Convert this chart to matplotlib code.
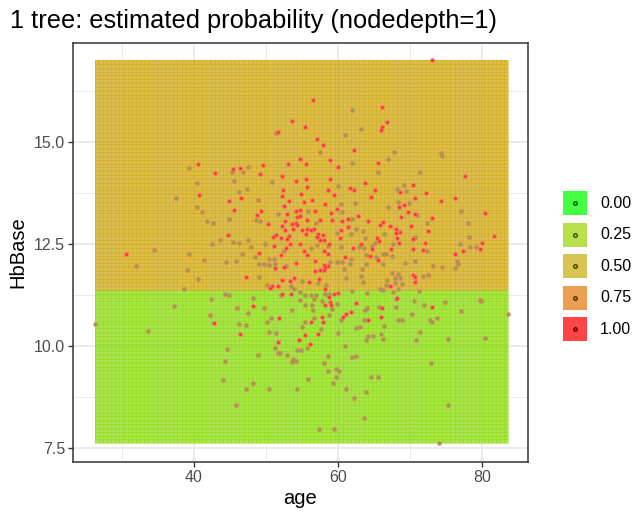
import numpy as np
import matplotlib
matplotlib.use("Agg")
import matplotlib.pyplot as plt
from matplotlib.colors import LinearSegmentedColormap
from matplotlib.patches import Rectangle

plt.rcParams["font.family"] = ["Liberation Sans", "DejaVu Sans"]

# patients with outcome 1 (drawn red)
red_age = [40.6, 42.9, 40.7, 44.9, 44.7, 30.6, 42.8,
           56.6, 53.6, 55.5, 51.75, 57.1, 57.9, 62.2, 58.9, 54.8, 53.1, 55.6, 49.6, 46.5, 45.5,
           60.0, 49.2, 52.2, 55.6, 58.9, 54.2, 63.75, 61.7, 62.3, 55.8, 52.4, 58.6, 54.9, 52.3,
           59.5, 46.6, 53.2, 56.4, 55.3, 58.2, 52.5, 45.6, 49.3, 54.2, 54.8, 56.8, 59.9, 59.1,
           48.75, 53.0, 54.35, 54.8, 62.8, 55.7, 57.5, 59.25, 61.5, 64.2, 52.7, 54.25, 60.6,
           50.3, 53.6, 54.4, 52.3, 61.4, 52.7, 55.7, 55.0, 56.3, 56.75, 53.75, 60.5, 55.6, 57.3,
           58.0, 51.4, 51.0, 52.1, 53.3, 52.9, 57.1, 57.5, 58.1, 60.3, 53.4, 54.7, 58.8, 63.2,
           51.2, 52.8, 62.1,
           73.1, 66.2, 66.9, 66.1, 66.05, 65.6, 77.7, 70.4, 68.6, 65.2, 64.6, 72.2, 70.8, 76.25,
           74.35, 69.25, 68.5, 69.7, 70.8, 80.4, 68.8, 73.1, 66.3, 65.9, 67.3, 70.2, 68.1, 72.6,
           68.7, 68.1, 81.7, 65.5, 68.2, 70.5, 65.7, 68.5, 72.1, 80.0, 64.7, 67.4, 70.4, 71.9, 79.8,
           49.1, 52.1, 55.3, 55.7, 58.1, 58.65, 61.0, 51.3, 52.5, 54.2, 56.8, 58.1, 58.6, 56.9,
           57.5, 58.1, 58.2, 47.3, 53.9, 53.4, 52.2, 56.0, 57.4, 50.9, 51.7, 50.6, 58.3, 52.3,
           53.5, 59.5, 60.0, 58.8, 59.0, 58.2, 59.1, 62.5, 48.3, 61.8, 61.15, 60.8, 51.9, 57.8,
           64.2, 56.3, 57.9, 46.5, 57.3, 55.5, 54.6, 51.7, 56.1,
           64.5, 65.6, 76.25, 77.4, 70.5, 70.8, 70.8, 67.3, 68.3, 66.2, 73.1, 66.05]
red_hb = [14.46, 14.23, 13.70, 13.55, 12.71, 12.24, 10.56,
          16.02, 15.50, 15.35, 15.25, 15.07, 14.91, 14.80, 14.56, 14.58, 14.45, 14.45, 14.43, 14.36, 14.34,
          14.38, 14.22, 14.15, 14.09, 14.08, 14.04, 13.98, 13.87, 13.82, 13.89, 13.82, 13.81, 13.72, 13.66,
          13.69, 13.61, 13.54, 13.56, 13.52, 13.47, 13.43, 13.32, 13.29, 13.29, 13.33, 13.31, 13.35, 13.25,
          13.21, 13.22, 13.16, 13.17, 13.17, 13.09, 13.09, 13.09, 13.11, 13.06, 13.05, 13.01, 13.05,
          12.98, 12.98, 12.97, 12.93, 12.92, 12.84, 12.86, 12.84, 12.84, 12.85, 12.87, 12.84, 12.74, 12.73,
          12.71, 12.71, 12.66, 12.64, 12.70, 12.62, 12.66, 12.59, 12.58, 12.65, 12.50, 12.50, 12.49, 12.50,
          12.44, 12.40, 12.40,
          17.00, 15.85, 15.49, 15.37, 15.28, 14.47, 14.15, 13.95, 13.77, 13.81, 13.64, 13.74, 13.62, 13.62,
          13.54, 13.46, 13.39, 13.27, 13.24, 13.25, 13.15, 13.13, 13.04, 12.96, 12.93, 12.94, 12.86, 12.82,
          12.79, 12.77, 12.70, 12.65, 12.65, 12.62, 12.57, 12.52, 12.51, 12.53, 12.36, 12.36, 12.36, 12.35, 12.36,
          12.27, 12.23, 12.33, 12.22, 12.33, 12.25, 12.18, 11.91, 11.93, 12.03, 12.08, 11.99, 11.96, 11.84,
          11.85, 11.86, 11.92, 11.69, 11.66, 11.59, 11.60, 11.55, 11.63, 11.46, 11.47, 11.41, 11.40, 11.28,
          11.28, 11.27, 11.30, 11.20, 11.08, 11.00, 11.01, 11.05, 10.97, 10.82, 10.77, 10.71, 10.68, 10.70,
          10.63, 10.58, 10.57, 10.29, 10.29, 10.26, 10.14, 10.10, 10.05,
          12.20, 12.10, 12.25, 12.33, 11.74, 11.68, 11.56, 11.46, 11.18, 10.92, 10.94, 10.71]

# patients with outcome 0 (drawn green)
green_age = [39.4, 40.4, 37.6, 40.4, 41.2, 41.8, 42.7, 44.9, 43.7, 42.6, 34.5,
             39.3, 32.0, 41.5, 44.5, 39.1, 40.6, 38.7, 44.3, 44.9, 42.4, 37.2, 42.3, 26.25, 33.7,
             44.6, 44.3, 44.1,
             62.0, 51.4, 63.2, 61.0, 57.6, 62.0, 47.5, 45.3, 46.8, 45.6, 50.9, 60.1, 47.4, 46.3,
             49.0, 62.4, 60.4, 55.9, 60.6, 51.7, 48.65, 49.2, 62.0, 57.0, 62.6, 63.5, 59.9, 61.85,
             63.75, 47.5, 45.4, 46.25, 49.9, 57.1, 58.6, 48.0, 60.4, 62.9, 63.6, 56.3,
             67.8, 74.4, 74.5, 67.0, 65.55, 71.4, 69.2, 68.2, 69.5, 68.4, 69.9, 67.0, 77.1, 71.0,
             72.4, 78.1, 66.5, 70.7, 78.3, 65.2, 64.8, 67.7, 77.0, 78.4, 79.2,
             46.7, 48.5, 45.9, 52.5, 61.9, 63.9, 50.5, 51.2, 49.1, 49.7, 50.5, 51.25, 52.8, 58.9,
             59.9, 60.6, 61.75, 64.0, 60.9, 63.4, 49.1, 55.0, 57.3, 61.1, 63.2, 63.5, 50.2, 53.5,
             53.9, 58.4, 54.7, 52.1, 55.4, 56.25, 57.0, 58.3, 58.8, 62.0, 64.1, 48.2, 54.8, 56.7,
             57.8, 55.5, 56.5, 59.9, 46.0, 49.7, 56.6, 59.25, 53.6, 64.1, 63.8, 47.6, 58.8, 50.8,
             56.7, 60.5, 63.6, 50.2, 55.5, 46.3, 47.2, 55.1, 63.1, 62.5, 57.7, 50.4, 51.5, 60.0,
             64.25, 64.0, 61.0, 51.25, 55.7, 54.3, 54.9, 51.75, 52.0, 53.0, 58.65, 62.0, 62.5, 49.0,
             53.75, 54.2, 53.6, 58.1, 59.8, 60.2, 58.6, 59.7, 55.9, 48.3, 59.4, 47.2, 50.5, 54.35,
             61.15, 63.9, 62.3, 45.9, 63.7, 57.4, 59.5,
             65.3, 66.3, 66.75, 67.6, 66.25, 69.3, 70.7, 72.4, 76.6, 76.75, 76.25, 73.3, 74.5, 67.6,
             68.4, 71.9, 72.6, 66.9, 68.0, 68.6, 66.7, 67.9, 69.0, 65.9, 66.3, 68.4, 67.7, 71.25,
             68.1, 70.6, 74.9, 72.0, 79.7, 79.9, 65.7, 68.1, 77.1, 83.7, 70.3, 73.8, 72.8, 73.1,
             68.4, 69.0, 66.4, 71.5, 64.9, 66.05, 66.25, 70.9, 75.3, 80.4, 73.0, 64.6, 65.6, 75.3, 74.1]
green_hb = [14.36, 13.98, 13.63, 13.39, 13.27, 13.05, 13.00, 13.11, 12.59, 12.49, 12.35,
            12.26, 11.95, 12.09, 12.05, 11.86, 11.64, 11.40, 11.26, 11.25, 11.15, 10.97, 10.75, 10.53, 10.36,
            9.92, 9.63, 9.15,
            15.78, 15.21, 15.30, 15.16, 14.75, 14.48, 14.39, 14.27, 14.25, 14.04, 14.01, 13.91, 13.83, 13.77,
            13.56, 13.50, 13.48, 13.31, 13.28, 13.23, 13.09, 13.05, 13.10, 13.01, 12.85, 12.82, 12.77, 12.75,
            12.65, 12.60, 12.55, 12.52, 12.49, 12.47, 12.44, 12.41, 12.42, 12.41, 12.39, 12.40,
            14.75, 14.72, 14.64, 14.57, 14.27, 14.26, 13.94, 13.85, 13.79, 13.53, 13.49, 13.39, 13.31, 13.20,
            13.01, 13.00, 12.75, 12.67, 12.66, 12.51, 12.45, 12.49, 12.49, 12.43, 12.41,
            12.24, 12.17, 12.08, 12.31, 12.13, 12.22, 12.13, 12.12, 12.00, 12.01, 11.99, 12.00, 11.96, 12.04,
            12.04, 12.05, 12.00, 12.01, 11.88, 11.87, 11.69, 11.59, 11.53, 11.66, 11.70, 11.55, 11.50, 11.46,
            11.39, 11.50, 11.31, 11.24, 11.24, 11.25, 11.25, 11.27, 11.28, 11.34, 11.30, 11.16, 11.11, 11.15,
            11.09, 11.01, 11.00, 11.02, 10.92, 10.92, 10.88, 10.91, 10.87, 10.92, 10.87, 10.80, 10.75, 10.69,
            10.68, 10.63, 10.62, 10.58, 10.59, 10.54, 10.52, 10.46, 10.47, 10.43, 10.40, 10.34, 10.30, 10.30,
            10.24, 10.14, 9.99, 9.94, 9.94, 9.89, 9.90, 9.82, 9.83, 9.77, 9.76, 9.73, 9.76, 9.77,
            9.67, 9.63, 9.59, 9.58, 9.42, 9.38, 9.37, 9.23, 9.18, 9.09, 9.08, 8.93, 8.95, 8.95,
            8.95, 8.87, 8.71, 8.54, 8.24, 7.97, 7.97,
            12.17, 12.26, 12.24, 12.20, 12.01, 12.03, 12.08, 12.31, 12.08, 12.00, 11.90, 11.95, 11.93, 11.78,
            11.77, 11.71, 11.73, 11.61, 11.65, 11.65, 11.50, 11.54, 11.52, 11.39, 11.37, 11.38, 11.31, 11.33,
            11.14, 11.09, 11.07, 11.01, 11.13, 11.10, 10.94, 10.94, 10.84, 10.78, 10.77, 10.67, 10.64, 10.57,
            10.63, 10.63, 10.48, 10.34, 10.25, 10.29, 10.16, 10.15, 10.16, 10.18, 9.57, 9.23, 9.24, 8.54, 7.61]

# one tree, depth 1: split on HbBase
split_hb = 11.32
prob_below = 0.22
prob_above = 0.54
n_grid = 100

legend_breaks = [0.0, 0.25, 0.50, 0.75, 1.00]
legend_labels = ["0.00", "0.25", "0.50", "0.75", "1.00"]

# green -> red ramp
ramp = LinearSegmentedColormap.from_list(
    "prob", [(0.0, "#00ff00"), (0.25, "#9ed50a"), (0.5, "#caae0f"),
             (0.75, "#e67d0f"), (1.0, "#ff0000")])
fill_alpha = 0.73

fig = plt.figure(figsize=(6.36, 5.12), dpi=100)
ax = fig.add_axes([73 / 636, 50 / 512, 455 / 636, 419 / 512])

# prediction surface over the data range
all_age = np.array(red_age + green_age)
all_hb = np.array(red_hb + green_hb)
xs = np.linspace(all_age.min(), all_age.max(), n_grid + 1)
ys = np.linspace(all_hb.min(), all_hb.max(), n_grid + 1)
yc = (ys[:-1] + ys[1:]) / 2
prob = np.where(yc >= split_hb, prob_above, prob_below)
grid = np.repeat(prob[:, None], n_grid, axis=1)
ax.pcolormesh(xs, ys, grid, cmap=ramp, vmin=0, vmax=1, alpha=fill_alpha,
              edgecolors="none", antialiased=False, zorder=1)

# tile outlines, drawn per leaf so each uses its own fill colour
row_split = np.searchsorted(yc, split_hb)
for p, y0, y1, rows in [(prob_below, ys[0], ys[row_split], ys[:row_split + 1]),
                        (prob_above, ys[row_split], ys[-1], ys[row_split:])]:
    col = ramp(p)
    ax.vlines(xs, y0, y1, colors=[col], alpha=0.55, linewidth=0.6, zorder=1.5)
    ax.hlines(rows, xs[0], xs[-1], colors=[col], alpha=0.55, linewidth=0.6, zorder=1.5)

ax.scatter(green_age, green_hb, s=6, c="#3cd23c", edgecolors=(1, 0.4, 0.4, 0.55),
           linewidths=1.3, zorder=3)
ax.scatter(red_age, red_hb, s=6, c="#ff2424", edgecolors=(1, 0.4, 0.4, 0.55),
           linewidths=1.3, zorder=3)

ax.set_xlim(23.24, 86.43)
ax.set_ylim(7.15, 17.42)
ax.set_xticks([40, 60, 80])
ax.set_yticks([7.5, 10.0, 12.5, 15.0])
ax.set_yticklabels(["7.5", "10.0", "12.5", "15.0"])
ax.set_xticks([30, 50, 70], minor=True)
ax.set_yticks([8.75, 11.25, 13.75, 16.25], minor=True)
ax.set_axisbelow(True)
ax.grid(which="major", color="#ebebeb", linewidth=1.4)
ax.grid(which="minor", color="#ebebeb", linewidth=0.7)
ax.tick_params(which="major", length=3.7, width=1.0, color="#333333",
               labelcolor="#4d4d4d", labelsize=11.5, pad=2)
ax.tick_params(which="minor", length=0)
for sp in ax.spines.values():
    sp.set_color("#333333")
    sp.set_linewidth(1.1)

ax.set_xlabel("age", fontsize=14.5, labelpad=3)
ax.set_ylabel("HbBase", fontsize=14.5, labelpad=5)
fig.text(10 / 636, 1 - 28 / 512, "1 tree: estimated probability (nodedepth=1)",
         fontsize=18.3, ha="left", va="baseline")

# legend for the probability scale
lax = fig.add_axes([0, 0, 1, 1])
lax.set_xlim(0, 636)
lax.set_ylim(512, 0)
lax.axis("off")
key_x, key_size, key_top, key_step = 563, 24, 191, 31.6
for i, (b, lab) in enumerate(zip(legend_breaks, legend_labels)):
    top = key_top + i * key_step
    col = ramp(b)
    lax.add_patch(Rectangle((key_x, top), key_size, key_size, facecolor=col,
                            alpha=fill_alpha, edgecolor="none"))
    lax.scatter([key_x + key_size / 2], [top + key_size / 2], s=7,
                c=[(*col[:3], 0.8)], edgecolors=(0, 0, 0, 0.7), linewidths=0.9)
    lax.text(600, top + key_size / 2, lab, fontsize=11.5, va="center", ha="left")

fig.savefig("out.png", dpi=100)
